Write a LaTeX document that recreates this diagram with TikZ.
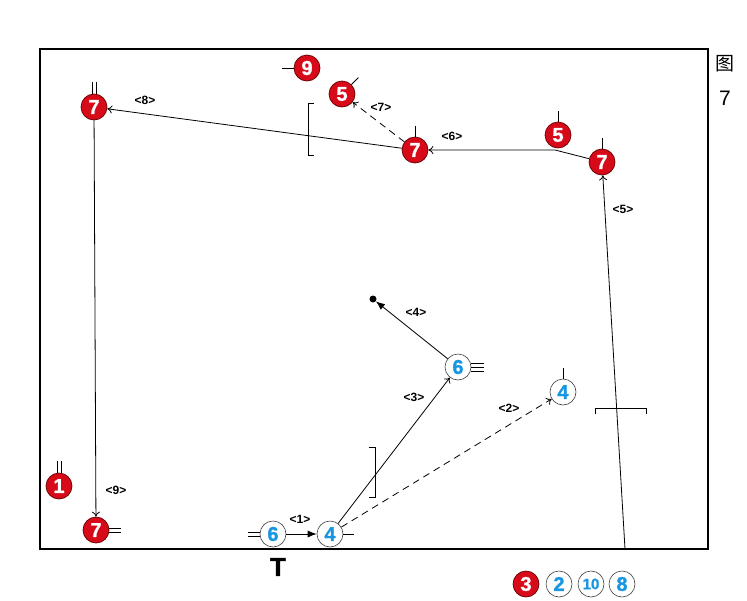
\documentclass[tikz,border=0pt]{standalone}
\usepackage{fontspec}
\setmainfont{Liberation Sans}
\newfontfamily\heavy{Liberation Sans}[BoldFeatures={FakeBold=1.2}]
\newfontfamily\cjk{Noto Sans CJK SC}
\usetikzlibrary{arrows.meta}
\definecolor{pred}{RGB}{215,10,25}
\definecolor{pblue}{RGB}{25,150,225}
\begin{document}
\begin{tikzpicture}[x=1pt,y=-1pt,
  redp/.style={circle,fill=pred,draw=red!40!black,line width=0.7pt,minimum size=26pt,inner sep=0pt,text=white,font=\heavy\bfseries\fontsize{20}{20}\selectfont},
  bluep/.style={circle,fill=white,draw=black!75,line width=0.6pt,minimum size=26pt,inner sep=0pt,text=pblue,font=\heavy\bfseries\fontsize{20}{20}\selectfont},
  lbl/.style={font=\bfseries\fontsize{12}{12}\selectfont,inner sep=0pt},
  mv/.style={line width=0.8pt,-{To[length=5pt,width=8pt]}},
  mvd/.style={mv,dash pattern=on 7pt off 5pt},
  pass/.style={line width=0.8pt,-{Latex[length=9pt,width=7pt]}},
  tick/.style={line width=0.8pt},
  frame/.style={line width=1.8pt}]
\useasboundingbox (0,0) rectangle (747,600);
\draw[frame] (40,49) rectangle (708,549);
\node[font=\cjk\fontsize{19}{19}\selectfont] (fig) at (725,64) {图};
\node[font=\fontsize{21}{21}\selectfont] (fign) at (725,98) {7};
% players
\node[redp] (r7a) at (94,107) {7};
\node[redp] (r9) at (307,68) {9};
\node[redp] (r5a) at (342,94) {5};
\node[redp] (r7b) at (415,150) {7};
\node[redp] (r5b) at (558,135) {5};
\node[redp] (r7c) at (602,162) {7};
\node[redp] (r1) at (59,486) {1};
\node[redp] (r7d) at (96,530) {7};
\node[bluep] (b6a) at (273,534) {6};
\node[bluep] (b4a) at (330,534) {4};
\node[bluep] (b6b) at (458,367) {6};
\node[bluep] (b4b) at (563,392) {4};
\node[circle,fill=black,inner sep=0pt,minimum size=7pt] (ball) at (373,299) {};
\node[font=\heavy\bfseries\fontsize{26}{26}\selectfont] (tee) at (278,567) {T};
% legend
\node[redp] (l3) at (526,584) {3};
\node[bluep] (l2) at (559,584) {2};
\node[bluep,font=\heavy\bfseries\fontsize{15}{15}\selectfont] (l10) at (591,584) {10};
\node[bluep] (l8) at (622,584) {8};
% ticks
\draw[tick] ([xshift=-2pt]r7a.north) -- ++(0,-12) ([xshift=2pt]r7a.north) -- ++(0,-12);
\draw[tick] (r9.west) -- ++(-12,0);
\draw[tick] (r5a.north east) -- ++(7,-7);
\draw[tick] (r7b.north) -- ++(0,-11);
\draw[tick] (r5b.north) -- ++(0,-11);
\draw[tick] (r7c.north) -- ++(0,-11);
\draw[tick] ([xshift=-2pt]r1.north) -- ++(0,-12) ([xshift=2pt]r1.north) -- ++(0,-12);
\draw[tick] ([yshift=-2pt]r7d.east) -- ++(12,0) ([yshift=2pt]r7d.east) -- ++(12,0);
\draw[tick] ([yshift=-2pt]b6a.west) -- ++(-12,0) ([yshift=2pt]b6a.west) -- ++(-12,0);
\draw[tick] (b4a.east) -- ++(11,0);
\draw[tick] ([yshift=-4pt]b6b.east) -- ++(13,0) (b6b.east) -- ++(13,0) ([yshift=4pt]b6b.east) -- ++(13,0);
\draw[tick] (b4b.north) -- ++(0,-11);
% brackets
\draw[tick] (314,103) -- (308,103) -- (308,155) -- (314,155);
\draw[tick] (369,447) -- (375,447) -- (375,497) -- (369,497);
\draw[tick] (595,414) -- (595,408) -- (646,408) -- (646,414);
% movements
\coordinate (corner) at (555,150);
\coordinate (start5) at (625,549);
\draw[pass] (b6a) -- (b4a);
\draw[mvd] (b4a) -- (b4b);
\draw[mv] (b4a) -- (b6b);
\draw[pass] (b6b) -- (ball);
\draw[mv] (start5) -- (r7c);
\draw[mv] (r7c) -- (corner) -- (r7b);
\draw[mvd] (r7b) -- (r5a);
\draw[mv] (r7b) -- (r7a);
\draw[mv] (r7a) -- (r7d);
% labels
\node[lbl] (t1) at (300,519) {<1>};
\node[lbl] (t2) at (509,408) {<2>};
\node[lbl] (t3) at (414,397) {<3>};
\node[lbl] (t4) at (416,312) {<4>};
\node[lbl] (t5) at (623,209) {<5>};
\node[lbl] (t6) at (452,136) {<6>};
\node[lbl] (t7) at (381,107) {<7>};
\node[lbl] (t8) at (145,100) {<8>};
\node[lbl] (t9) at (116,490) {<9>};
\end{tikzpicture}
\end{document}
